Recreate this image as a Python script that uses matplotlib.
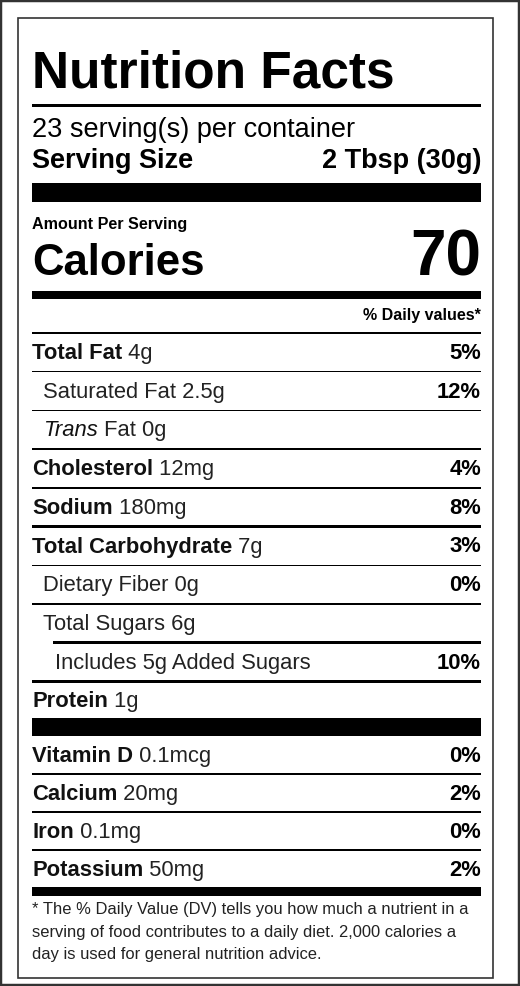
import matplotlib.pyplot as plt
from matplotlib.patches import Rectangle

plt.rcParams['font.family'] = ['Liberation Sans', 'DejaVu Sans']

servings = '23 serving(s) per container'
serving_size = '2 Tbsp (30g)'
calories = '70'

# name, amount, % daily value, indent level, bold name
nutrients = [
    ('Total Fat', '4g', '5%', 0, True),
    ('Saturated Fat', '2.5g', '12%', 1, False),
    ('Trans', 'Fat 0g', '', 1, False),
    ('Cholesterol', '12mg', '4%', 0, True),
    ('Sodium', '180mg', '8%', 0, True),
    ('Total Carbohydrate', '7g', '3%', 0, True),
    ('Dietary Fiber', '0g', '0%', 1, False),
    ('Total Sugars', '6g', '', 1, False),
    ('Includes 5g Added Sugars', '', '10%', 2, False),
    ('Protein', '1g', '', 0, True),
]
vitamins = [
    ('Vitamin D', '0.1mcg', '0%'),
    ('Calcium', '20mg', '2%'),
    ('Iron', '0.1mg', '0%'),
    ('Potassium', '50mg', '2%'),
]
footnote = ['* The % Daily Value (DV) tells you how much a nutrient in a',
            'serving of food contributes to a daily diet. 2,000 calories a',
            'day is used for general nutrition advice.']

fig = plt.figure(figsize=(5.2, 9.86), dpi=100)
ax = fig.add_axes([0, 0, 1, 1])
ax.set_xlim(0, 520)
ax.set_ylim(986, 0)
ax.axis('off')

L, R = 32, 481
FS = 15.8
ax.add_patch(Rectangle((0, 0), 519, 985, fill=False, ec='#333333', lw=2.5))
ax.add_patch(Rectangle((18, 18), 475, 960, fill=False, ec='#333333', lw=1.2))

def bar(y0, y1, x0=L):
    ax.add_patch(Rectangle((x0, y0), R - x0, y1 - y0, color='black', lw=0))

def mixed(x, y, bold, rest, size, italic=False):
    t = ax.text(x, y, bold, fontsize=size, weight='bold' if not italic else 'normal',
                style='italic' if italic else 'normal', va='baseline', color='#111111')
    if rest:
        ax.annotate(' ' + rest, xy=(1, 0), xycoords=t, va='bottom', ha='left',
                    fontsize=size, color='#222222')

ax.text(L, 88, 'Nutrition Facts', fontsize=37, weight='bold', va='baseline')
bar(104, 106.5)
ax.text(L, 137, servings, fontsize=19.5, va='baseline')
ax.text(L, 168, 'Serving Size', fontsize=19.5, weight='bold', va='baseline')
ax.text(R, 168, serving_size, fontsize=19.5, weight='bold', va='baseline', ha='right')
bar(183, 202)
ax.text(L, 229, 'Amount Per Serving', fontsize=11.6, weight='bold', va='baseline')
ax.text(L, 275, 'Calories', fontsize=31.5, weight='bold', va='baseline')
ax.text(R, 275, calories, fontsize=46, weight='bold', va='baseline', ha='right')
bar(291, 299)
ax.text(R, 320, '% Daily values*', fontsize=11.5, weight='bold', va='baseline', ha='right')
bar(332, 333.5)

row_h = 38.7
y = 333
indents = [0, 11, 23]
for i, (name, amt, dv, lvl, b) in enumerate(nutrients):
    base = y + 26
    x = L + indents[lvl]
    if b:
        mixed(x, base, name, amt, FS)
    elif name == 'Trans':
        mixed(x, base, name, amt, FS, italic=True)
    else:
        ax.text(x, base, (name + ' ' + amt).strip(), fontsize=FS, va='baseline', color='#222222')
    if dv:
        ax.text(R, base, dv, fontsize=FS, weight='bold', va='baseline', ha='right')
    y += row_h
    if i < len(nutrients) - 1:
        nxt = nutrients[i + 1]
        x0 = L + 21 if nxt[3] == 2 else L
        thick = 2.5 if nxt[4] or nxt[3] == 2 else 1.3
        bar(y - thick / 2, y + thick / 2, x0)
bar(718, 736)

y = 736
for i, (name, amt, dv) in enumerate(vitamins):
    base = y + 26
    mixed(L, base, name, amt, FS)
    ax.text(R, base, dv, fontsize=FS, weight='bold', va='baseline', ha='right')
    y += 38
    if i < len(vitamins) - 1:
        th = 2.5 if i == 1 else 1.3
        bar(y - th / 2, y + th / 2)
bar(887, 896)

for j, line in enumerate(footnote):
    ax.text(L, 914 + j * 22.5, line, fontsize=11.9, va='baseline', color='#222222')

fig.savefig('out.png', dpi=100)
